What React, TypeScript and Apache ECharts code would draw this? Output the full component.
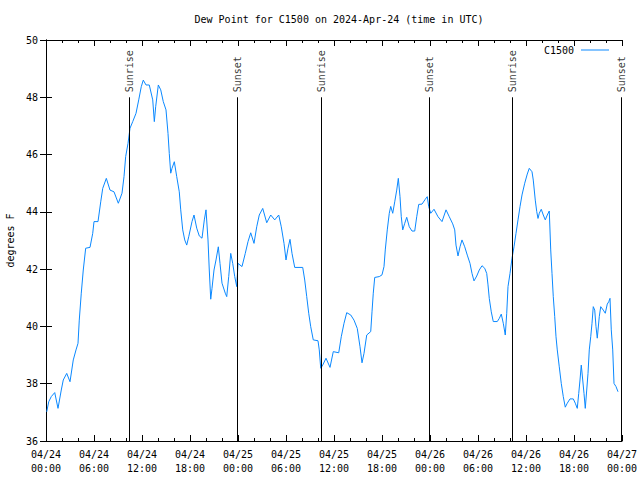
import React, { useEffect, useRef } from "react";
import * as echarts from "echarts";

// Hours since 2024-04-24 00:00 UTC
const hours: number[] = [
  0.09, 0.34, 0.66, 1.09, 1.5, 1.91, 2.16, 2.59, 3.0, 3.41, 3.75, 4.0, 4.16, 4.41, 4.66, 4.96, 5.5, 5.84, 6.0, 6.5,
  6.84, 7.09, 7.54, 8.0, 8.5, 9.04, 9.5, 9.75, 9.96, 10.25, 10.5, 10.84, 11.25, 11.59, 11.91, 12.16,
  12.5, 12.91, 13.34, 13.54, 13.71, 14.04, 14.34, 14.66, 15.0, 15.25, 15.41, 15.59, 15.75, 16.04, 16.34, 16.66,
  16.84, 17.09, 17.34, 17.59, 17.84, 18.25, 18.5, 18.84, 19.16, 19.5, 19.79, 20.0, 20.25, 20.41, 20.59, 20.75,
  21.0, 21.25, 21.54, 21.75, 22.0, 22.41, 22.59, 22.84, 23.09, 23.34, 23.59, 23.84, 24.0,
  24.5, 24.91, 25.25, 25.59, 26.0, 26.34, 26.66, 27.09, 27.59, 28.09, 28.59, 29.09, 29.41, 29.75, 30.0, 30.25,
  30.5, 30.75, 31.09, 32.09, 32.34, 32.59, 32.84, 33.09, 33.41, 34.0, 34.16, 34.34, 34.59, 35.0, 35.5, 35.91,
  36.59, 36.91, 37.25, 37.59, 38.09, 38.5, 38.91, 39.25, 39.5, 39.75, 40.09, 40.59, 40.75, 40.91, 41.09, 41.66,
  42.0, 42.25, 42.41, 42.66, 42.91, 43.09, 43.34, 43.59, 43.84, 44.04, 44.25, 44.41, 44.59, 44.84, 45.09, 45.41,
  45.75, 46.09, 46.34, 46.59, 47.0, 47.41, 47.66, 47.84, 48.09,
  48.5, 49.0, 49.5, 50.0, 50.41, 50.84, 51.09, 51.25, 51.5, 51.75, 52.0, 52.34, 52.66, 53.0, 53.25, 53.5, 53.84,
  54.16, 54.5, 54.84, 55.09, 55.25, 55.41, 55.66, 55.91, 56.41, 56.66, 56.91, 57.16, 57.41, 57.59, 57.75, 58.0,
  58.25, 58.5, 58.75, 59.0, 59.25, 59.5, 59.84, 60.16,
  60.41, 60.75, 60.91, 61.16, 61.34, 61.5, 61.66, 61.91, 62.16, 62.41, 62.66, 62.91, 63.09, 63.25, 63.41, 63.59,
  63.75, 63.91, 64.16, 64.41, 64.66, 64.91, 65.16, 65.5, 65.91, 66.16, 66.41, 66.59, 66.75, 66.91, 67.09, 67.25,
  67.41, 67.59, 67.75, 67.91, 68.09, 68.25, 68.41, 68.59, 68.75, 68.91, 69.16, 69.34, 69.66, 69.91, 70.16, 70.34,
  70.5, 70.66, 70.84, 71.0, 71.25, 71.5,
];

// Dew point, degrees F
const dewPoint: number[] = [
  37.02, 37.37, 37.55, 37.69, 37.14, 37.78, 38.13, 38.36, 38.07, 38.83, 39.18, 39.41, 40.22, 41.16, 41.97, 42.73, 42.76, 43.25, 43.66, 43.66,
  44.35, 44.82, 45.17, 44.76, 44.7, 44.3, 44.65, 45.23, 45.93, 46.39, 46.92, 47.15, 47.44, 47.91, 48.37, 48.6,
  48.43, 48.43, 47.91, 47.15, 47.67, 48.43, 48.26, 47.85, 47.56, 46.74, 46.04, 45.35, 45.52, 45.75, 45.23, 44.7,
  44.07, 43.37, 43.02, 42.84, 43.13, 43.66, 43.89, 43.43, 43.16, 43.08, 43.72, 44.07, 43.02, 41.97, 40.95, 41.33,
  41.97, 42.32, 42.78, 42.2, 41.51, 41.16, 41.04, 41.74, 42.55, 42.2, 41.74, 41.39, 42.2,
  42.09, 42.55, 42.96, 43.27, 42.9, 43.48, 43.89, 44.12, 43.62, 43.89, 43.72, 43.89, 43.48, 42.9, 42.32, 42.73,
  43.04, 42.55, 42.06, 42.06, 41.62, 41.04, 40.46, 39.99, 39.53, 39.5, 39.18, 38.54, 38.65, 38.89, 38.57, 39.12,
  39.08, 39.64, 40.11, 40.48, 40.4, 40.22, 39.93, 39.29, 38.73, 39.06, 39.7, 39.82, 40.51, 41.16, 41.71, 41.74,
  41.8, 42.09, 42.67, 43.37, 43.95, 44.19, 43.95, 44.35, 44.76, 45.17, 44.53, 43.83, 43.37, 43.6, 43.81, 43.48,
  43.33, 43.33, 43.83, 44.26, 44.27, 44.44, 44.53, 44.18, 43.95,
  44.09, 43.83, 43.66, 44.07, 43.83, 43.58, 43.37, 42.84, 42.46, 42.78, 43.02, 42.78, 42.49, 42.2, 41.85, 41.59, 41.76,
  41.97, 42.12, 42.03, 41.85, 41.45, 40.98, 40.51, 40.17, 40.17, 40.28, 40.43, 40.11, 39.7, 40.46, 41.39, 41.85,
  42.38, 42.78, 43.25, 43.72, 44.18, 44.59, 45.0, 45.32,
  45.52, 45.4, 45.11, 44.41, 44.01, 43.77, 43.95, 44.09, 43.89, 43.72, 43.89, 44.03, 42.67, 41.85, 41.04, 40.34,
  39.64, 39.18, 38.59, 38.01, 37.55, 37.18, 37.32, 37.47, 37.47, 37.32, 37.14, 37.66, 38.13, 38.65, 38.13, 37.66,
  37.14, 37.78, 38.36, 39.18, 39.64, 40.11, 40.69, 40.57, 39.99, 39.59, 40.34, 40.69, 40.57, 40.46, 40.78, 40.86,
  40.98, 39.88, 39.18, 38.01, 37.9, 37.72,
];

// Sun events (hours since 2024-04-24 00:00 UTC)
const sunTimes: number[] = [10.375, 23.875, 34.375, 47.875, 58.25, 71.875];
const sunLabels: string[] = ["Sunrise", "Sunset", "Sunrise", "Sunset", "Sunrise", "Sunset"];
const sunLineTop = 48;

const seriesName = "C1500";
const titleText = "Dew Point for C1500 on 2024-Apr-24 (time in UTC)";
const yAxisName = "degrees F";

const FONT = "DejaVu Sans Mono";
const BLUE = "#0a88ff";

export default function App() {
  const ref = useRef<HTMLDivElement>(null);
  useEffect(() => {
    if (!ref.current) return;
    const chart = echarts.init(ref.current, null, { renderer: "svg" });
    const yMin = 36;
    const yMax = 50;
    const fmtX = (v: number) => {
      const day = 24 + Math.floor(v / 24);
      const hh = Math.round(v % 24);
      return `04/${String(day).padStart(2, "0")}\n${String(hh).padStart(2, "0")}:00`;
    };
    const axisLine = { show: true, lineStyle: { color: "#000", width: 1 } };
    const tick = { show: true, inside: true, length: 6, lineStyle: { color: "#000" } };
    const minor = { show: true, splitNumber: 3, length: 3, lineStyle: { color: "#000" } };
    chart.setOption({
      animation: false,
      backgroundColor: "#fff",
      textStyle: { fontFamily: FONT },
      title: {
        text: titleText,
        left: 334,
        textAlign: "center",
        top: 9,
        textStyle: { fontFamily: FONT, fontSize: 10, fontWeight: "normal", color: "#000" },
      },
      legend: {
        data: [{ name: seriesName, icon: "rect" }],
        right: 26,
        top: 40,
        align: "right",
        itemGap: 10,
        itemWidth: 28,
        itemHeight: 1,
        textStyle: { fontFamily: FONT, fontSize: 10, color: "#000", padding: [0, 2, 0, 0] },
      },
      grid: {
        left: 46,
        right: 18,
        top: 40,
        bottom: 39,
        containLabel: false,
        outerBoundsMode: "none",
      },
      xAxis: [
        {
          type: "value",
          min: 0,
          max: 72,
          interval: 6,
          axisLine,
          axisTick: tick,
          minorTick: minor,
          splitLine: { show: false },
          axisLabel: {
            formatter: fmtX,
            fontFamily: FONT,
            fontSize: 10,
            color: "#000",
            margin: 6,
            lineHeight: 14,
          },
        },
        {
          type: "value",
          position: "top",
          min: 0,
          max: 72,
          interval: 6,
          axisLine,
          axisTick: tick,
          minorTick: minor,
          splitLine: { show: false },
          axisLabel: { show: false },
        },
      ],
      yAxis: [
        {
          type: "value",
          min: yMin,
          max: yMax,
          interval: 2,
          axisLine,
          axisTick: tick,
          splitLine: { show: false },
          axisLabel: { fontFamily: FONT, fontSize: 10, color: "#000", margin: 8 },
          name: yAxisName,
          nameLocation: "middle",
          nameGap: 31,
          nameTextStyle: { fontFamily: FONT, fontSize: 10, color: "#000" },
        },
        {
          type: "value",
          position: "right",
          min: yMin,
          max: yMax,
          interval: 2,
          axisLine,
          axisTick: tick,
          splitLine: { show: false },
          axisLabel: { show: false },
        },
      ],
      series: [
        {
          type: "scatter",
          name: "sun",
          silent: true,
          symbolSize: 0,
          data: sunTimes.map((t, i) => ({ value: [t, sunLineTop], name: sunLabels[i] })),
          label: {
            show: true,
            formatter: "{b}",
            position: "top",
            distance: 5,
            rotate: 90,
            align: "left",
            verticalAlign: "middle",
            fontFamily: FONT,
            fontSize: 10,
            color: "#000",
          },
          markLine: {
            silent: true,
            symbol: "none",
            label: { show: false },
            lineStyle: { color: "#000", width: 1, type: "solid" },
            data: sunTimes.map((t) => [{ coord: [t, yMin] }, { coord: [t, sunLineTop] }]),
          },
          z: 1,
        },
        {
          type: "line",
          name: seriesName,
          data: hours.map((h, i) => [h, dewPoint[i]]),
          showSymbol: false,
          symbol: "none",
          lineStyle: { color: BLUE, width: 1 },
          itemStyle: { color: BLUE },
          z: 3,
        },
      ],
    });
    return () => chart.dispose();
  }, []);
  return (
    <div
      ref={ref}
      style={{ position: "fixed", left: 0, top: 0, width: 640, height: 480, background: "#fff" }}
    />
  );
}
